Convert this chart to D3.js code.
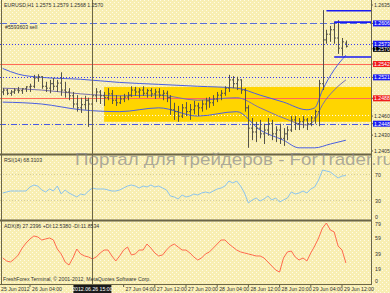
<!DOCTYPE html>
<html>
<head>
<meta charset="utf-8">
<script src="https://cdn.jsdelivr.net/npm/d3@7"></script>
<style>
  body { margin: 0; background: #fff; }
  svg { display: block; font-family: "Liberation Sans", Arial, sans-serif; }
</style>
</head>
<body>
<svg id="chart" width="390" height="293"></svg>
<script>
// ---- data ----
const symbolTitle = "EURUSD,H1  1.2575 1.2579 1.2568 1.2570";
const orderLabel  = "#5593603 sell";
const rsiTitle    = "RSI(14) 68.3103";
const adxTitle    = "ADX(8) 27.2396 +DI:12.5380 -DI:11.8534";
const copyright   = "FreshForex Terminal, \u00a9 2001-2012, MetaQuotes Software Corp.";
const watermark   = "Портал для трейдеров - ForTrader.ru";

const firstBar = new Date(2012, 5, 25, 21);   // H1 bars, one per hour
const opens  = [1.2498,1.2501,1.2496,1.2498,1.2501,1.2500,1.2503,1.2506,1.2507,1.2520,1.2522,1.2507,1.2504,1.2511,1.2507,1.2512,1.2501,1.2498,1.2492,1.2479,1.2473,1.2478,1.2485,1.2479,1.2492,1.2498,1.2492,1.2489,1.2495,1.2485,1.2481,1.2487,1.2490,1.2493,1.2501,1.2498,1.2501,1.2496,1.2500,1.2495,1.2498,1.2493,1.2496,1.2489,1.2470,1.2467,1.2460,1.2473,1.2467,1.2470,1.2476,1.2473,1.2479,1.2484,1.2481,1.2487,1.2493,1.2496,1.2504,1.2517,1.2511,1.2517,1.2501,1.2473,1.2441,1.2435,1.2441,1.2432,1.2438,1.2448,1.2432,1.2438,1.2425,1.2432,1.2438,1.2454,1.2448,1.2451,1.2454,1.2448,1.2457,1.2467,1.2511,1.2580,1.2589,1.2596,1.2583,1.2567,1.2575];
const highs  = [1.2504,1.2503,1.2501,1.2504,1.2506,1.2504,1.2507,1.2511,1.2525,1.2526,1.2523,1.2514,1.2517,1.2520,1.2517,1.2529,1.2514,1.2504,1.2498,1.2493,1.2489,1.2492,1.2489,1.2498,1.2504,1.2501,1.2498,1.2504,1.2501,1.2493,1.2492,1.2495,1.2498,1.2507,1.2506,1.2504,1.2507,1.2503,1.2504,1.2503,1.2504,1.2501,1.2500,1.2493,1.2481,1.2476,1.2479,1.2482,1.2479,1.2484,1.2481,1.2485,1.2489,1.2490,1.2493,1.2498,1.2501,1.2507,1.2525,1.2523,1.2522,1.2518,1.2504,1.2477,1.2457,1.2451,1.2454,1.2448,1.2457,1.2454,1.2444,1.2448,1.2441,1.2444,1.2460,1.2460,1.2457,1.2460,1.2457,1.2460,1.2470,1.2517,1.2627,1.2596,1.2602,1.2608,1.2611,1.2583,1.2579];
const lows   = [1.2493,1.2493,1.2492,1.2495,1.2496,1.2495,1.2498,1.2498,1.2504,1.2514,1.2503,1.2498,1.2496,1.2501,1.2498,1.2492,1.2489,1.2485,1.2473,1.2467,1.2465,1.2470,1.2443,1.2473,1.2482,1.2479,1.2476,1.2485,1.2479,1.2476,1.2479,1.2482,1.2485,1.2490,1.2492,1.2489,1.2492,1.2489,1.2490,1.2487,1.2489,1.2485,1.2482,1.2462,1.2454,1.2451,1.2457,1.2460,1.2454,1.2463,1.2460,1.2467,1.2470,1.2473,1.2476,1.2482,1.2485,1.2492,1.2498,1.2504,1.2501,1.2495,1.2467,1.2410,1.2422,1.2419,1.2425,1.2416,1.2429,1.2422,1.2419,1.2416,1.2413,1.2422,1.2435,1.2438,1.2438,1.2441,1.2438,1.2444,1.2448,1.2444,1.2501,1.2574,1.2577,1.2574,1.2558,1.2555,1.2568];
const closes = [1.2501,1.2496,1.2498,1.2501,1.2500,1.2503,1.2506,1.2507,1.2520,1.2522,1.2507,1.2504,1.2511,1.2507,1.2512,1.2501,1.2498,1.2492,1.2479,1.2473,1.2478,1.2485,1.2479,1.2492,1.2498,1.2492,1.2489,1.2495,1.2485,1.2481,1.2487,1.2490,1.2493,1.2501,1.2498,1.2501,1.2496,1.2500,1.2495,1.2498,1.2493,1.2496,1.2489,1.2470,1.2467,1.2460,1.2473,1.2467,1.2470,1.2476,1.2473,1.2479,1.2484,1.2481,1.2487,1.2493,1.2496,1.2504,1.2517,1.2511,1.2517,1.2501,1.2473,1.2441,1.2435,1.2441,1.2432,1.2438,1.2448,1.2432,1.2438,1.2425,1.2432,1.2438,1.2454,1.2448,1.2451,1.2454,1.2448,1.2457,1.2467,1.2511,1.2580,1.2589,1.2596,1.2583,1.2567,1.2577,1.2570];

const rsiValues = [41.5,43.1,44.6,44.6,44.6,44.6,44.6,50.8,53.8,52.3,46.2,43.1,47.7,44.6,52.3,40.0,46.2,41.5,38.5,35.4,40.0,38.5,44.6,49.2,47.7,47.7,47.7,46.2,44.6,44.6,46.2,49.2,52.3,53.8,52.3,49.2,52.3,50.8,53.8,50.8,52.3,49.2,46.2,36.9,35.4,32.3,38.5,35.4,36.9,40.0,38.5,41.5,43.1,41.5,44.6,47.7,49.2,52.3,60.0,56.9,60.0,52.3,41.5,26.2,30.8,33.8,29.2,32.3,36.9,30.8,33.8,27.7,30.8,33.8,43.1,40.0,41.5,44.6,41.5,47.7,50.8,61.5,76.9,75.4,73.8,69.2,64.6,67.7,68.3];
const adxValues = [33.7,29.8,28.5,32.4,37.6,46.6,53.1,58.3,62.2,60.9,57.0,58.3,59.6,57.0,45.3,38.9,28.5,24.6,33.7,45.3,38.9,36.3,35.0,32.4,35.0,40.2,44.0,44.0,36.3,29.8,36.3,44.0,47.9,37.6,38.9,44.0,44.0,51.8,46.6,40.2,36.3,37.6,44.0,49.2,51.8,47.9,44.0,44.0,40.2,35.0,31.1,33.7,38.9,41.5,46.6,51.8,57.0,57.0,51.8,47.9,44.0,41.5,40.2,38.9,37.6,36.3,36.3,33.7,28.5,23.3,18.1,15.5,33.7,41.5,42.7,35.0,31.1,33.7,29.8,40.2,49.2,59.6,72.5,79.0,69.9,67.4,49.2,44.0,27.2];

// indicator bands: [bar index, price]
const bandUpper  = [[0,1.2535],[4,1.2526],[10,1.2521],[20,1.2518],[30,1.2513],[40,1.2510],[50,1.2507],[60,1.2504],[66,1.2493],[72,1.2482],[78,1.2470],[80,1.2473],[82,1.2501],[85,1.2533],[88,1.2556]];
const bandMiddle = [[0,1.2504],[10,1.2501],[20,1.2495],[30,1.2492],[40,1.2493],[50,1.2485],[60,1.2489],[66,1.2473],[72,1.2457],[78,1.2446],[80,1.2454],[82,1.2478],[85,1.2501],[88,1.2517]];
const bandLower  = [[0,1.2482],[10,1.2479],[20,1.2470],[30,1.2467],[40,1.2473],[50,1.2460],[60,1.2467],[66,1.2438],[72,1.2422],[76,1.2410],[80,1.2410],[84,1.2416],[88,1.2422]];

// horizontal levels
const levels = [
  {price: 1.2606, kind: "order"},
  {price: 1.2573, kind: "dotted"},
  {price: 1.2542, kind: "red"},
  {price: 1.2521, kind: "dotted"},
  {price: 1.2488, kind: "red"},
  {price: 1.2448, kind: "dashdot"}
];
const zoneTop = 1.2506, zoneBottom = 1.2451, zoneMid = 1.2461;
const zoneStart = new Date(2012, 5, 26, 23);
const segments = [
  {price: 1.2626, from: new Date(2012, 5, 29, 8)},
  {price: 1.2608, from: new Date(2012, 5, 29, 10)},
  {price: 1.2553, from: new Date(2012, 5, 29, 10)}
];
const markerTime = new Date(2012, 5, 26, 20);

const priceTicks = [
  {v: 1.2635, t: "1.2635"},
  {v: 1.2606, t: "1.2606", box: "#1c1cf0"},
  {v: 1.2566, t: "1.2570", box: "#000"},
  {v: 1.2574, t: "1.2573", box: "#1c1cf0"},
  {v: 1.2542, t: "1.2542", box: "#f01c1c"},
  {v: 1.2521, t: "1.2521", box: "#1c1cf0"},
  {v: 1.2488, t: "1.2488", box: "#f01c1c"},
  {v: 1.2460, t: "1.2460"},
  {v: 1.2448, t: "1.2448", box: "#1c1cf0"},
  {v: 1.2430, t: "1.2430"},
  {v: 1.2405, t: "1.2405"}
];
const rsiTicks = [70, 30, 0];
const adxTicks = [79, 59, 39, 19, 0];
const timeTicks = [
  {d: new Date(2012, 5, 25, 20), t: "25 Jun 2012"},
  {d: new Date(2012, 5, 26, 4),  t: "26 Jun 04:00"},
  {d: new Date(2012, 5, 27, 4),  t: "27 Jun 04:00"},
  {d: new Date(2012, 5, 27, 12), t: "27 Jun 12:00"},
  {d: new Date(2012, 5, 27, 20), t: "27 Jun 20:00"},
  {d: new Date(2012, 5, 28, 4),  t: "28 Jun 04:00"},
  {d: new Date(2012, 5, 28, 12), t: "28 Jun 12:00"},
  {d: new Date(2012, 5, 28, 20), t: "28 Jun 20:00"},
  {d: new Date(2012, 5, 29, 4),  t: "29 Jun 04:00"},
  {d: new Date(2012, 5, 29, 12), t: "29 Jun 12:00"}
];
const markerLabel = "2012.06.26 15:00";

// ---- layout ----
const plotRight = 371,
      main = {top: 0, bottom: 153},
      ink  = "#333",
      frame = "#6b6548";

const svg = d3.select("#chart");
const times = opens.map((d, i) => d3.timeHour.offset(firstBar, i));

const x    = d3.scaleTime().domain([new Date(2012, 5, 25, 20), new Date(2012, 5, 29, 12)]).range([-1.2, 342]);
const y    = d3.scaleLinear().domain([1.2405, 1.2635]).range([151, 5]);
const yRsi = d3.scaleLinear().domain([0, 100]).range([220, 155]);
const yAdx = d3.scaleLinear().domain([0, 79]).range([284, 223]);
const barX = i => x(times[i]);

// background with speckle
const defs = svg.append("defs");
const pat = defs.append("pattern").attr("id", "speck").attr("width", 4).attr("height", 4).attr("patternUnits", "userSpaceOnUse");
pat.append("rect").attr("width", 4).attr("height", 4).attr("fill", "#f8eeb2");
pat.append("rect").attr("x", 0).attr("y", 0).attr("width", 1).attr("height", 1).attr("fill", "#fffbe6");
pat.append("rect").attr("x", 2).attr("y", 2).attr("width", 1).attr("height", 1).attr("fill", "#fffbe6");
svg.append("rect").attr("width", 390).attr("height", 293).attr("fill", "url(#speck)");

defs.append("clipPath").attr("id", "clipMain").append("rect").attr("x", 0).attr("y", main.top).attr("width", plotRight).attr("height", main.bottom - main.top);

// ---- main panel ----
const g = svg.append("g").attr("clip-path", "url(#clipMain)");

g.append("rect")
  .attr("x", x(zoneStart)).attr("y", y(zoneTop))
  .attr("width", plotRight - x(zoneStart)).attr("height", y(zoneBottom) - y(zoneTop))
  .attr("fill", "#ffd500");
g.append("line")
  .attr("x1", x(zoneStart)).attr("x2", plotRight)
  .attr("y1", y(zoneMid)).attr("y2", y(zoneMid))
  .attr("stroke", "#fff").attr("stroke-dasharray", "1,2");

const levelStyle = {
  order:   {stroke: "#5a6fd6", dash: "7,3"},
  dotted:  {stroke: "#3a3af0", dash: "1,2"},
  red:     {stroke: "#ff6a5a", dash: null},
  dashdot: {stroke: "#4a5ae6", dash: "6,2,1,2"}
};
levels.forEach(l => {
  const s = levelStyle[l.kind];
  g.append("line")
    .attr("x1", 0).attr("x2", plotRight)
    .attr("y1", Math.round(y(l.price)) + 0.5).attr("y2", Math.round(y(l.price)) + 0.5)
    .attr("stroke", s.stroke).attr("stroke-dasharray", s.dash);
});

segments.forEach(s => {
  svg.append("line")
    .attr("x1", x(s.from)).attr("x2", plotRight)
    .attr("y1", y(s.price)).attr("y2", y(s.price))
    .attr("stroke", "#1a1af5").attr("stroke-width", 1.6);
});

// bands
const bandLine = d3.line().x(d => x(times[d[0]])).y(d => y(d[1])).curve(d3.curveMonotoneX);
[[bandUpper, "#4b5fe0"], [bandMiddle, "#7a70b0"], [bandLower, "#4b5fe0"]].forEach(([pts, c]) => {
  g.append("path").attr("d", bandLine(pts)).attr("fill", "none").attr("stroke", c).attr("stroke-width", 1);
});

// OHLC bars
const bars = g.append("g").attr("stroke", "#55534a").attr("stroke-width", 1);
opens.forEach((o, i) => {
  const bx = Math.round(barX(i)) + 0.5;
  bars.append("line").attr("x1", bx).attr("x2", bx).attr("y1", y(highs[i])).attr("y2", y(lows[i]));
  bars.append("line").attr("x1", bx - 1.5).attr("x2", bx).attr("y1", y(o)).attr("y2", y(o));
  bars.append("line").attr("x1", bx).attr("x2", bx + 1.5).attr("y1", y(closes[i])).attr("y2", y(closes[i]));
});

// ---- RSI panel ----
svg.selectAll(".rsiLevel").data([70, 30]).enter().append("line")
  .attr("x1", 0).attr("x2", plotRight)
  .attr("y1", d => yRsi(d)).attr("y2", d => yRsi(d))
  .attr("stroke", "#d6cfa0").attr("stroke-dasharray", "1,2");
svg.append("path")
  .attr("d", d3.line().x((d, i) => barX(i)).y(d => yRsi(d))(rsiValues))
  .attr("fill", "none").attr("stroke", "#8cc4ee").attr("stroke-width", 1);

// ---- ADX panel ----
svg.append("path")
  .attr("d", d3.line().x((d, i) => barX(i)).y(d => yAdx(d))(adxValues))
  .attr("fill", "none").attr("stroke", "#ff6a4e").attr("stroke-width", 1);

// ---- frames ----
svg.append("line").attr("x1", 0).attr("x2", plotRight).attr("y1", 154.5).attr("y2", 154.5).attr("stroke", frame).attr("stroke-width", 2);
svg.append("line").attr("x1", 0).attr("x2", plotRight).attr("y1", 220.5).attr("y2", 220.5).attr("stroke", frame).attr("stroke-width", 2);
svg.append("line").attr("x1", 0).attr("x2", plotRight).attr("y1", 284.5).attr("y2", 284.5).attr("stroke", frame).attr("stroke-width", 1);
svg.append("line").attr("x1", plotRight + 0.5).attr("x2", plotRight + 0.5).attr("y1", 0).attr("y2", 285).attr("stroke", frame).attr("stroke-width", 1);
svg.append("line").attr("x1", 1.5).attr("x2", 1.5).attr("y1", 0).attr("y2", 285).attr("stroke", frame).attr("stroke-width", 1);
svg.append("line").attr("x1", Math.round(x(markerTime)) + 0.5).attr("x2", Math.round(x(markerTime)) + 0.5)
  .attr("y1", 0).attr("y2", 285).attr("stroke", frame).attr("stroke-width", 1);

// ---- watermark ----
svg.append("text").attr("x", 75).attr("y", 165)
  .attr("textLength", 318).attr("lengthAdjust", "spacingAndGlyphs")
  .attr("font-size", 17).attr("fill", "#8a8a8a").attr("fill-opacity", 0.7)
  .text(watermark);

// ---- texts ----
const small = 5.2;
function label(tx, ty, s, anchor) {
  return svg.append("text").attr("x", tx).attr("y", ty).attr("font-size", small)
    .attr("fill", ink).attr("text-anchor", anchor || "start").text(s);
}
label(4, 7, symbolTitle);
label(5, 29, orderLabel);
label(4, 162, rsiTitle);
label(4, 228, adxTitle);
label(3, 281, copyright);

// price axis
priceTicks.forEach(t => {
  const ty = y(t.v);
  svg.append("line").attr("x1", plotRight).attr("x2", plotRight + 2).attr("y1", ty).attr("y2", ty).attr("stroke", frame);
  if (t.box) {
    svg.append("rect").attr("x", plotRight + 2).attr("y", ty - 3).attr("width", 17).attr("height", 6).attr("fill", t.box);
  }
  svg.append("text").attr("x", plotRight + 3).attr("y", ty + 1.8).attr("font-size", small)
    .attr("fill", t.box ? "#fff" : ink).text(t.t);
});
rsiTicks.forEach(v => {
  const ty = Math.min(yRsi(v), 217);
  svg.append("text").attr("x", plotRight + 4).attr("y", ty + 2).attr("font-size", small).attr("fill", ink).text(v);
});
adxTicks.forEach(v => {
  const ty = Math.max(Math.min(yAdx(v), 281), 224);
  svg.append("text").attr("x", plotRight + 4).attr("y", ty + 2).attr("font-size", small).attr("fill", ink).text(v);
});

// time axis
timeTicks.forEach(t => {
  const tx = x(t.d);
  svg.append("line").attr("x1", tx).attr("x2", tx).attr("y1", 284).attr("y2", 287).attr("stroke", frame);
  svg.append("text").attr("x", Math.max(tx + 2, 1)).attr("y", 291).attr("font-size", small).attr("fill", ink).text(t.t);
});
const mx = x(markerTime);
svg.append("rect").attr("x", mx - 19).attr("y", 285).attr("width", 38).attr("height", 8).attr("fill", "#1a1a1a");
svg.append("text").attr("x", mx).attr("y", 291).attr("font-size", small).attr("fill", "#fff")
  .attr("text-anchor", "middle").text(markerLabel);
</script>
</body>
</html>
